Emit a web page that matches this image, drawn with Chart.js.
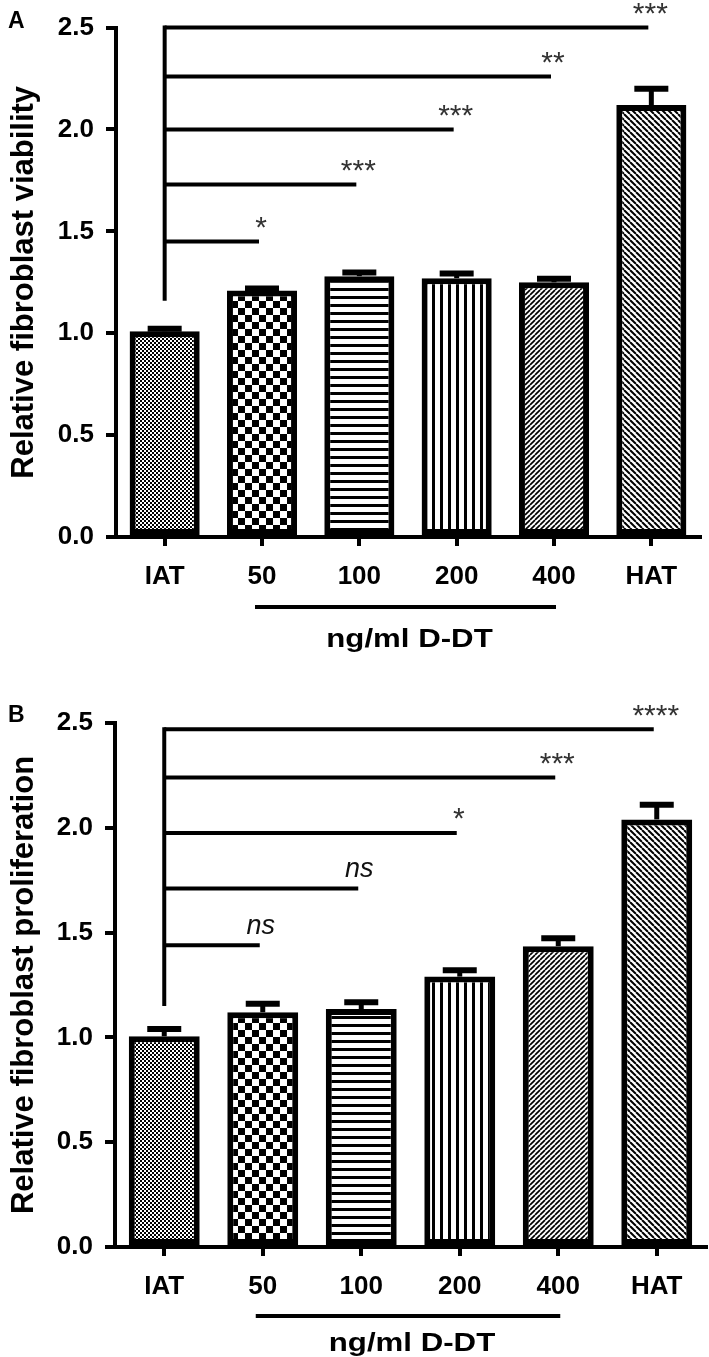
<!DOCTYPE html>
<html>
<head>
<meta charset="utf-8">
<script src="https://cdn.jsdelivr.net/npm/chart.js@4.4.1/dist/chart.umd.min.js"></script>
<style>
  html, body { margin: 0; padding: 0; background: #fff; }
  #wrap { position: relative; width: 709px; height: 1357px; }
  canvas { position: absolute; left: 0; }
</style>
</head>
<body>
<div id="wrap">
  <canvas id="panelA" width="709" height="680" style="top:0"></canvas>
  <canvas id="panelB" width="709" height="677" style="top:680px"></canvas>
</div>
<script>
const categories = ['IAT', '50', '100', '200', '400', 'HAT'];
const doseRange = ['50', '400'];
const doseLabel = 'ng/ml D-DT';

// panel A - viability
const viabilityMean = [1.01, 1.21, 1.28, 1.27, 1.25, 2.12];
const viabilityErr = [0.012, 0.01, 0.018, 0.023, 0.018, 0.08];
const viabilityBracketLevel = [1.45, 1.73, 2.0, 2.26, 2.5];
const viabilityBracketTarget = ['50', '100', '200', '400', 'HAT'];
const viabilityBracketMark = ['*', '***', '***', '**', '***'];
const viabilityBracketBase = 1.16;

// panel B - proliferation
const prolifMean = [1.005, 1.12, 1.135, 1.29, 1.435, 2.04];
const prolifErr = [0.035, 0.04, 0.033, 0.03, 0.038, 0.07];
const prolifBracketLevel = [1.44, 1.71, 1.975, 2.24, 2.47];
const prolifBracketTarget = ['50', '100', '200', '400', 'HAT'];
const prolifBracketMark = ['ns', 'ns', '*', '***', '****'];
const prolifBracketBase = 1.15;

const yMax = 2.5;
const yStep = 0.5;

function makePattern(kind) {
  const c = document.createElement('canvas');
  const g = c.getContext('2d');
  let s;
  if (kind === 'fineCheck') {
    s = 4; c.width = c.height = s;
    g.fillStyle = '#fff'; g.fillRect(0, 0, s, s);
    g.fillStyle = '#000'; g.fillRect(0, 0, 2, 2); g.fillRect(2, 2, 2, 2);
  } else if (kind === 'coarseCheck') {
    s = 14; c.width = c.height = s;
    g.fillStyle = '#fff'; g.fillRect(0, 0, s, s);
    g.fillStyle = '#000'; g.fillRect(0, 0, 7, 7); g.fillRect(7, 7, 7, 7);
  } else if (kind === 'hLines') {
    s = 8; c.width = c.height = s;
    g.fillStyle = '#fff'; g.fillRect(0, 0, s, s);
    g.fillStyle = '#000'; g.fillRect(0, 0, s, 3);
  } else if (kind === 'vLines') {
    s = 8; c.width = c.height = s;
    g.fillStyle = '#fff'; g.fillRect(0, 0, s, s);
    g.fillStyle = '#000'; g.fillRect(0, 0, 3, s);
  } else if (kind === 'diagUp') {
    s = 5; c.width = c.height = s;
    g.fillStyle = '#fff'; g.fillRect(0, 0, s, s);
    g.strokeStyle = '#000'; g.lineWidth = 1.7;
    for (const k of [-s, 0, s]) { g.beginPath(); g.moveTo(k, s); g.lineTo(k + s, 0); g.stroke(); }
  } else {
    s = 6; c.width = c.height = s;
    g.fillStyle = '#fff'; g.fillRect(0, 0, s, s);
    g.strokeStyle = '#000'; g.lineWidth = 2;
    for (const k of [-s, 0, s]) { g.beginPath(); g.moveTo(k, 0); g.lineTo(k + s, s); g.stroke(); }
  }
  return g.createPattern(c, 'repeat');
}

const patternKinds = ['fineCheck', 'coarseCheck', 'hLines', 'vLines', 'diagUp', 'diagDown'];

const extras = {
  id: 'extras',
  afterDraw(chart, args, o) {
    const ctx = chart.ctx;
    const xs = chart.scales.x, ys = chart.scales.y;
    const area = chart.chartArea;
    const meta = chart.getDatasetMeta(0);
    ctx.save();
    ctx.strokeStyle = '#000';
    ctx.fillStyle = '#000';

    // error bars
    o.err.forEach((e, i) => {
      const bar = meta.data[i];
      const top = ys.getPixelForValue(o.mean[i] + e);
      ctx.lineWidth = 5;
      ctx.beginPath(); ctx.moveTo(bar.x, bar.y); ctx.lineTo(bar.x, top); ctx.stroke();
      ctx.lineWidth = 6;
      ctx.beginPath(); ctx.moveTo(bar.x - 17, top); ctx.lineTo(bar.x + 17, top); ctx.stroke();
    });

    // significance brackets
    const x0 = xs.getPixelForValue(0);
    ctx.lineWidth = 4;
    ctx.beginPath();
    ctx.moveTo(x0, ys.getPixelForValue(Math.max(...o.level)) - 2);
    ctx.lineTo(x0, ys.getPixelForValue(o.base));
    ctx.stroke();
    o.level.forEach((lv, i) => {
      const yy = ys.getPixelForValue(lv);
      const x1 = xs.getPixelForValue(categories.indexOf(o.target[i])) - 3;
      ctx.beginPath(); ctx.moveTo(x0, yy); ctx.lineTo(x1, yy); ctx.stroke();
      const m = o.mark[i];
      ctx.textAlign = 'center';
      ctx.textBaseline = 'middle';
      if (m === 'ns') {
        ctx.font = 'italic 27px "Liberation Sans"';
        ctx.fillStyle = '#111';
        ctx.fillText(m, x1 + 1, yy - 19);
      } else {
        ctx.font = '30px "Liberation Sans"';
        ctx.fillStyle = '#333';
        ctx.fillText(m, x1 + 2, yy - 13);
      }
    });

    // dose group underline and label
    ctx.fillStyle = '#000';
    const xa = xs.getPixelForValue(categories.indexOf(doseRange[0])) - 7;
    const xb = xs.getPixelForValue(categories.indexOf(doseRange[1])) + 2;
    ctx.lineWidth = 4;
    ctx.beginPath(); ctx.moveTo(xa, area.bottom + o.lineGap); ctx.lineTo(xb, area.bottom + o.lineGap); ctx.stroke();
    ctx.save();
    ctx.translate((xa + xb) / 2 + 4, area.bottom + o.labelGap);
    ctx.scale(1.2, 1);
    ctx.font = 'bold 26px "Liberation Sans"';
    ctx.textAlign = 'center';
    ctx.textBaseline = 'alphabetic';
    ctx.fillText(doseLabel, 0, 0);
    ctx.restore();

    // y title
    ctx.save();
    ctx.translate(33, (area.top + area.bottom) / 2);
    ctx.rotate(-Math.PI / 2);
    ctx.font = 'bold 31px "Liberation Sans"';
    ctx.textAlign = 'center';
    ctx.textBaseline = 'alphabetic';
    ctx.fillText(o.title, 0, 0);
    ctx.restore();

    // panel letter
    ctx.font = 'bold 23px "Liberation Sans"';
    ctx.textAlign = 'left';
    ctx.textBaseline = 'alphabetic';
    ctx.fillText(o.letter, 8, o.letterY);
    ctx.restore();
  }
};

function buildPanel(id, mean, err, level, target, mark, base, geom) {
  const ctx = document.getElementById(id).getContext('2d');
  return new Chart(ctx, {
    type: 'bar',
    data: {
      labels: categories,
      datasets: [{
        data: mean,
        backgroundColor: patternKinds.map(makePattern),
        borderColor: '#000',
        borderWidth: 6,
        borderSkipped: false,
        barPercentage: 0.72,
        categoryPercentage: 1.0,
      }],
    },
    options: {
      responsive: false,
      animation: false,
      devicePixelRatio: 1,
      layout: { padding: { top: geom.top, right: geom.right, left: 0, bottom: 0 } },
      plugins: {
        legend: { display: false },
        tooltip: { enabled: false },
        extras: {
          mean, err, level, target, mark, base,
          title: geom.title, letter: geom.letter, letterY: geom.letterY,
          lineGap: geom.lineGap, labelGap: geom.labelGap,
        },
      },
      scales: {
        x: {
          offset: true,
          afterFit: (s) => { s.height = geom.xHeight; },
          border: { display: true, color: '#000', width: 4 },
          grid: { display: true, offset: false, drawOnChartArea: false, drawTicks: true, tickLength: 9, lineWidth: 4, color: '#000' },
          ticks: { color: '#000', padding: 15, font: { family: 'Liberation Sans', weight: 'bold', size: 26 } },
        },
        y: {
          min: 0,
          max: yMax,
          afterFit: (s) => { s.width = geom.yWidth; },
          border: { display: true, color: '#000', width: 4 },
          grid: { display: true, drawOnChartArea: false, drawTicks: true, tickLength: 10, lineWidth: 4, color: '#000' },
          ticks: {
            stepSize: yStep, color: '#000', padding: 12,
            font: { family: 'Liberation Sans', weight: 'bold', size: 26 },
            callback: (v) => Number(v).toFixed(1),
          },
        },
      },
    },
    plugins: [extras],
  });
}

buildPanel('panelA', viabilityMean, viabilityErr, viabilityBracketLevel, viabilityBracketTarget,
  viabilityBracketMark, viabilityBracketBase,
  { top: 25, right: 9, yWidth: 116, xHeight: 143, lineGap: 70, labelGap: 110,
    title: 'Relative fibroblast viability', letter: 'A', letterY: 28 });

buildPanel('panelB', prolifMean, prolifErr, prolifBracketLevel, prolifBracketTarget,
  prolifBracketMark, prolifBracketBase,
  { top: 43, right: 3, yWidth: 115, xHeight: 110, lineGap: 69, labelGap: 104,
    title: 'Relative fibroblast proliferation', letter: 'B', letterY: 42 });
</script>
</body>
</html>
